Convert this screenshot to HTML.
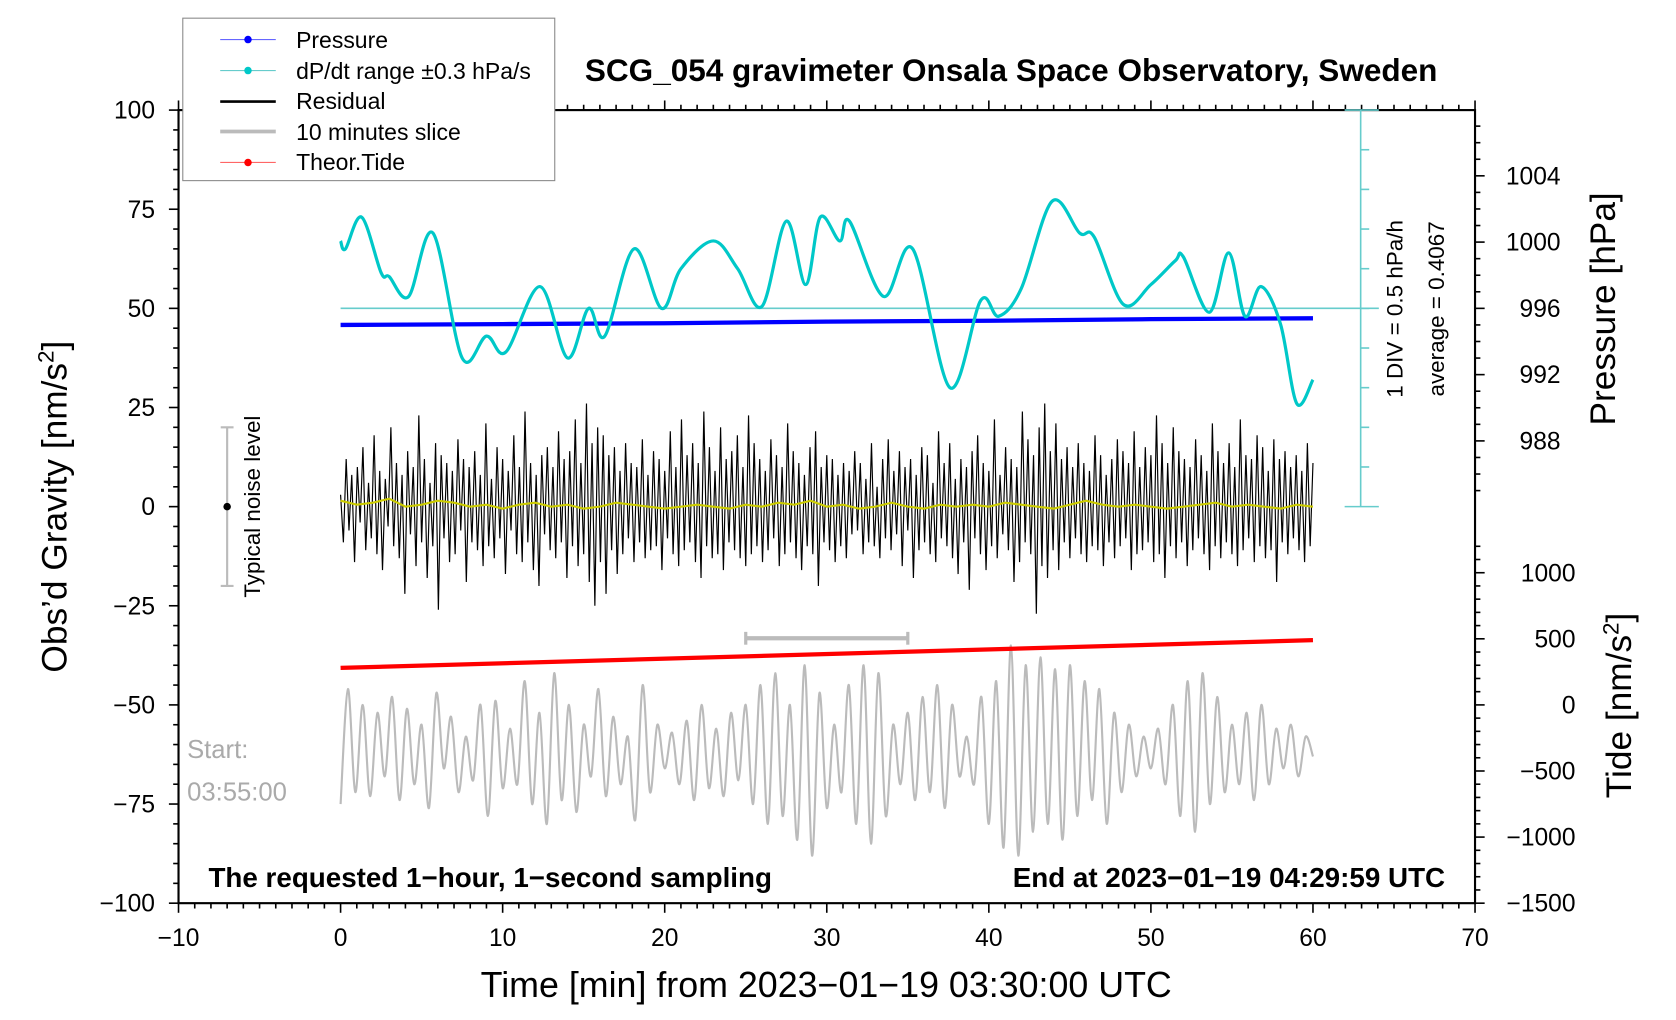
<!DOCTYPE html>
<html><head><meta charset="utf-8"><style>
html,body{margin:0;padding:0;background:#fff;}
svg{display:block;font-family:"Liberation Sans",sans-serif;}
</style></head><body>
<svg id="chart" width="1676" height="1020" viewBox="0 0 1568 954.3" xmlns="http://www.w3.org/2000/svg">
<g id="axes"></g>
<g id="series"></g>
<text x="946" y="76" text-anchor="middle" font-size="29.5" font-weight="bold">SCG_054 gravimeter Onsala Space Observatory, Sweden</text>
<text x="773" y="933" text-anchor="middle" font-size="33.5">Time [min] from 2023−01−19 03:30:00 UTC</text>
<text transform="translate(62,474) rotate(-90)" text-anchor="middle" font-size="33">Obs’d Gravity [nm/s<tspan font-size="21" dy="-12">2</tspan><tspan dy="12">]</tspan></text>
<text transform="translate(1511,289) rotate(-90)" text-anchor="middle" font-size="33">Pressure [hPa]</text>
<text transform="translate(1526,660) rotate(-90)" text-anchor="middle" font-size="33">Tide [nm/s<tspan font-size="21" dy="-12">2</tspan><tspan dy="12">]</tspan></text>
<text transform="translate(1312,289) rotate(-90)" text-anchor="middle" font-size="21">1 DIV = 0.5 hPa/h</text>
<text transform="translate(1351,289) rotate(-90)" text-anchor="middle" font-size="21">average = 0.4067</text>
<text transform="translate(243,474) rotate(-90)" text-anchor="middle" font-size="21">Typical noise level</text>
<text x="175" y="709" font-size="24" fill="#aaaaaa">Start:</text>
<text x="175" y="749" font-size="24" fill="#aaaaaa">03:55:00</text>
<text x="195" y="830" font-size="26" font-weight="bold">The requested 1−hour, 1−second sampling</text>
<text x="1352" y="830" text-anchor="end" font-size="26" font-weight="bold">End at 2023−01−19 04:29:59 UTC</text>
<g>
<rect x="171" y="17" width="348" height="152" fill="#fff" stroke="#888" stroke-width="1"/>
<g><line x1="206" y1="37" x2="258" y2="37" stroke="#6666ff" stroke-width="1"/><circle cx="232" cy="37" r="3.5" fill="#0000ff"/><text x="277" y="45" font-size="21.5">Pressure</text></g>
<g><line x1="206" y1="66" x2="258" y2="66" stroke="#66cccc" stroke-width="1"/><circle cx="232" cy="66" r="3.5" fill="#00c8c8"/><text x="277" y="74" font-size="21.5">dP/dt range ±0.3 hPa/s</text></g>
<g><line x1="206" y1="95" x2="258" y2="95" stroke="#000" stroke-width="2.5"/><text x="277" y="102" font-size="21.5">Residual</text></g>
<g><line x1="206" y1="123" x2="258" y2="123" stroke="#bbb" stroke-width="3.5"/><text x="277" y="131" font-size="21.5">10 minutes slice</text></g>
<g><line x1="206" y1="152" x2="258" y2="152" stroke="#ff6666" stroke-width="1"/><circle cx="232" cy="152" r="3.5" fill="#ff0000"/><text x="277" y="159" font-size="21.5">Theor.Tide</text></g>
</g>
</svg>
<script>
const NS="http://www.w3.org/2000/svg";
const dpTimes=[0,0.3,1.3,2.5,3,4.2,5.7,7.5,9,10.2,12.3,14,15.3,16.3,18.1,19.8,21,23,24.5,26,27.5,28.7,29.6,30.8,31.4,33.5,35.3,37.6,39.5,40.6,42,43.9,45.6,46.5,48.3,50,51.5,52,53.6,54.8,55.8,56.8,58,59,60];
const dpValues=[67,65,73,59,58,53,69,37.5,43,39,55.5,37.5,50,43,65,50,60,67,60,50.5,72,56,73,67,72,53,65,30,52,48,55,77,69,68,51,56,62,63,49,64,48,55.5,46,26,32];
const presTimes=[0,10,20,30,40,50,60];
const presValues=[995.0,995.05,995.1,995.2,995.25,995.35,995.4];
const tideTimes=[0,60];
const tideValues=[280,490];
const resValues=[3,-9,12,-6,8,-14,10,-4,15,-11,6,-8,18,-12,9,-16,7,-5,20,-10,11,-13,8,-22,14,-7,10,-15,23,-9,12,-18,6,-10,16,-26,13,-8,11,-14,9,-12,17,-6,12,-19,10,-9,14,-11,8,-15,21,-10,7,-13,15,-8,12,-17,9,-6,18,-12,10,-14,24,-9,11,-16,8,-20,13,-7,15,-11,10,-13,19,-9,12,-18,14,-10,22,-15,11,-12,26,-19,16,-25,20,-14,18,-22,13,-11,15,-17,9,-12,16,-8,11,-14,10,-9,17,-13,8,-11,14,-10,12,-16,9,-8,19,-12,10,-15,22,-11,13,-9,16,-14,11,-18,24,-10,15,-13,9,-12,20,-16,12,-9,14,-11,18,-13,10,-15,23,-12,16,-10,12,-14,9,-11,17,-8,13,-15,10,-12,21,-9,14,-13,11,-16,8,-10,15,-12,19,-20,10,-9,13,-11,12,-14,8,-10,11,-13,9,-7,14,
-6,11,-12,7,-9,16,-10,5,-13,12,-8,17,-11,9,-7,14,-15,10,-6,12,-18,8,-11,15,-9,13,-12,6,-14,19,-8,11,-10,16,-13,7,-17,12,-9,10,-21,14,-8,18,-12,11,-16,9,-10,22,-13,8,-7,15,-11,12,-19,10,-14,24,-9,17,-12,13,-27,20,-15,26,-18,14,-11,21,-16,12,-9,15,-13,10,-8,16,-12,11,-14,9,-10,18,-11,13,-15,8,-9,12,-13,17,-10,14,-8,11,-16,19,-12,10,-11,15,-9,13,-14,23,-12,16,-18,11,-10,20,-13,14,-9,12,-15,10,-11,17,-8,13,-12,9,-16,21,-10,14,-13,11,-9,16,-12,10,-15,22,-11,13,-8,12,-14,18,-10,15,-13,9,-11,17,-19,12,-9,14,-12,10,-8,13,-11,9,-14,16,-10,11];
const smoothValues=[1.5,0.5,1,2,0,0.5,1.5,1,0,0.5,-0.5,0.5,1,0,0.5,-0.5,0,1,0.5,0,-0.5,0,0.5,0,-0.5,0.5,0,1,0.5,1.5,0,0.5,-0.5,0,1,0,-0.5,0.5,0,0.5,0,1,0.5,0,-0.5,0.5,1.5,0.5,0,0.5,0,-0.5,0,0.5,1,0,0.5,0,-0.5,0.5,0];
const sliceValues=[-75,-46,-72,-50,-73,-52,-68,-48,-74,-51,-70,-55,-76,-47,-66,-53,-72,-58,-69,-50,-78,-49,-71,-56,-70,-44,-75,-52,-80,-42,-74,-50,-77,-55,-68,-46,-73,-53,-70,-58,-79,-45,-72,-55,-66,-57,-70,-54,-74,-50,-71,-56,-73,-52,-69,-50,-75,-45,-80,-42,-78,-50,-84,-40,-88,-47,-76,-55,-72,-45,-80,-40,-85,-42,-78,-55,-70,-52,-74,-48,-72,-45,-76,-50,-68,-58,-70,-48,-80,-44,-86,-35,-88,-40,-82,-38,-80,-41,-84,-40,-78,-44,-74,-46,-80,-52,-72,-55,-68,-58,-66,-56,-70,-50,-78,-44,-82,-42,-75,-48,-72,-55,-70,-52,-74,-50,-70,-56,-66,-55,-68,-58,-63];
const gravTicks=[-100,-75,-50,-25,0,25,50,75,100];
const timeTicks=[-10,0,10,20,30,40,50,60,70];
const presTicks=[1004,1000,996,992,988];
const tideTicks=[1000,500,0,-500,-1000,-1500];
const sliceRange=[25,35];
const sliceBarLevel=-33.2;

const L=167,R=1380,T=103,B=845;
const X=t=>L+(t+10)*(R-L)/80;
const GY=g=>474-g*(B-T)/200;
const PY=p=>GY(50)-(p-996)*15.5;
const TY=v=>GY(-50)-v*(GY(0)-GY(25))/750;

function el(tag,attrs,parent){const e=document.createElementNS(NS,tag);for(const k in attrs)e.setAttribute(k,attrs[k]);parent.appendChild(e);return e;}
function cr(pts){let d="M"+pts[0][0]+","+pts[0][1];for(let i=0;i<pts.length-1;i++){const p0=pts[Math.max(0,i-1)],p1=pts[i],p2=pts[i+1],p3=pts[Math.min(pts.length-1,i+2)];d+=" C"+(p1[0]+(p2[0]-p0[0])/6)+","+(p1[1]+(p2[1]-p0[1])/6)+" "+(p2[0]-(p3[0]-p1[0])/6)+","+(p2[1]-(p3[1]-p1[1])/6)+" "+p2[0]+","+p2[1];}return d;}
const ax=document.getElementById('axes'),sr=document.getElementById('series');

const frame=el('rect',{x:L,y:T,width:R-L,height:B-T,fill:'none',stroke:'#000','stroke-width':2},ax);


for(let g=-100;g<=100;g+=5){const m=g%25===0;el('line',{x1:L,x2:L-(m?9:5),y1:GY(g),y2:GY(g),stroke:'#000','stroke-width':1.5},ax);}
gravTicks.forEach(g=>{const t=el('text',{x:L-22,y:GY(g)+8,'text-anchor':'end','font-size':23},ax);t.textContent=String(g).replace('-','−');

});
for(let t=-10;t<=70;t++){const m=t%10===0;el('line',{x1:X(t),x2:X(t),y1:B,y2:B+(m?9:5),stroke:'#000','stroke-width':1.5},ax);el('line',{x1:X(t),x2:X(t),y1:T,y2:T-(m?9:5),stroke:'#000','stroke-width':1.5},ax);}
timeTicks.forEach(t=>{const e=el('text',{x:X(t),y:B+40,'text-anchor':'middle','font-size':23},ax);e.textContent=String(t).replace('-','−');

});
for(let p=1007;p>=985;p--){const m=p%4===0;el('line',{x1:R,x2:R+(m?9:5),y1:PY(p),y2:PY(p),stroke:'#000','stroke-width':1.5},ax);}
presTicks.forEach(p=>{const e=el('text',{x:1460,y:PY(p)+8,'text-anchor':'end','font-size':23},ax);e.textContent=p;

});
for(let v=1200;v>=-1500;v-=100){const m=v%500===0;el('line',{x1:R,x2:R+(m?9:5),y1:TY(v),y2:TY(v),stroke:'#000','stroke-width':1.5},ax);}
tideTicks.forEach(v=>{const e=el('text',{x:1474,y:TY(v)+8,'text-anchor':'end','font-size':23},ax);e.textContent=String(v).replace('-','−');

});
const sb=el('g',{},ax);


el('line',{x1:1273,x2:1273,y1:T,y2:GY(0),stroke:'#66cccc','stroke-width':1.5},sb);
el('line',{x1:1258,x2:1290,y1:GY(0),y2:GY(0),stroke:'#66cccc','stroke-width':1.5},sb);
el('line',{x1:1258,x2:1290,y1:T,y2:T,stroke:'#66cccc','stroke-width':1.5},sb);
for(let i=1;i<10;i++){const y=T+i*(GY(0)-T)/10;el('line',{x1:1273,x2:1281,y1:y,y2:y,stroke:'#66cccc','stroke-width':1.5},sb);}
const rl=el('line',{x1:X(0),x2:1290,y1:GY(50),y2:GY(50),stroke:'#66cccc','stroke-width':1.5},sr);


const ni=el('g',{},sr);


el('line',{x1:X(-7),x2:X(-7),y1:GY(20),y2:GY(-20),stroke:'#bbb','stroke-width':2},ni);
el('line',{x1:X(-7)-6,x2:X(-7)+6,y1:GY(20),y2:GY(20),stroke:'#bbb','stroke-width':2},ni);
el('line',{x1:X(-7)-6,x2:X(-7)+6,y1:GY(-20),y2:GY(-20),stroke:'#bbb','stroke-width':2},ni);
el('circle',{cx:X(-7),cy:GY(0),r:3.5,fill:'#000'},ni);
const sp=el('path',{d:cr(sliceValues.map((v,i)=>[X(i*60/(sliceValues.length-1)),GY(v)])),fill:'none',stroke:'#bbb','stroke-width':2},sr);


const sbar=el('g',{},sr);


el('line',{x1:X(sliceRange[0]),x2:X(sliceRange[1]),y1:GY(sliceBarLevel),y2:GY(sliceBarLevel),stroke:'#bbb','stroke-width':4},sbar);
sliceRange.forEach(t=>el('line',{x1:X(t),x2:X(t),y1:GY(sliceBarLevel)-6,y2:GY(sliceBarLevel)+6,stroke:'#bbb','stroke-width':3},sbar));
const tl=el('polyline',{points:tideTimes.map((t,i)=>X(t)+','+TY(tideValues[i])).join(' '),fill:'none',stroke:'#ff0000','stroke-width':4},sr);


const rp=el('polyline',{points:resValues.map((v,i)=>X(i*60/(resValues.length-1))+','+GY(v)).join(' '),fill:'none',stroke:'#000','stroke-width':1.1},sr);


const yp=el('polyline',{points:smoothValues.map((v,i)=>X(i*60/(smoothValues.length-1))+','+GY(v)).join(' '),fill:'none',stroke:'#cccc00','stroke-width':2},sr);


const pl=el('polyline',{points:presTimes.map((t,i)=>X(t)+','+PY(presValues[i])).join(' '),fill:'none',stroke:'#0000ff','stroke-width':4},sr);


const dl=el('path',{d:cr(dpTimes.map((t,i)=>[X(t),GY(dpValues[i])])),fill:'none',stroke:'#00c8c8','stroke-width':3},sr);


</script>
</body></html>
